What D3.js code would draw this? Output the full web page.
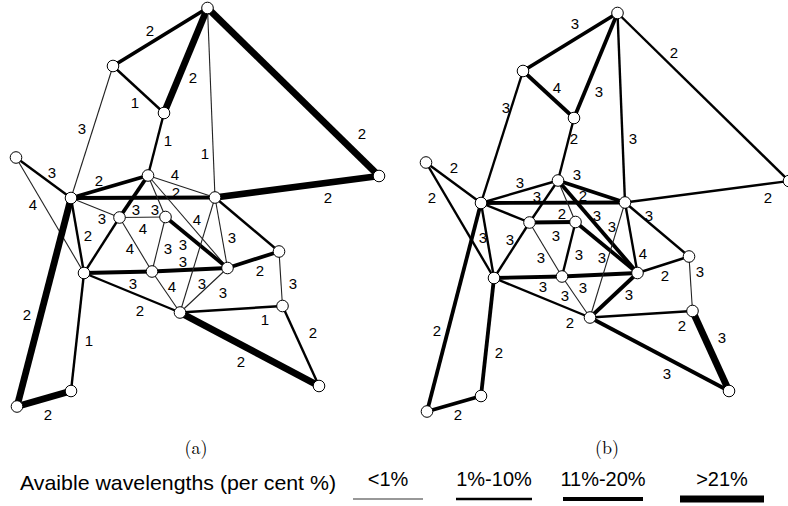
<!DOCTYPE html>
<html>
<head>
<meta charset="utf-8">
<script src="https://cdn.jsdelivr.net/npm/d3@7"></script>
<style>
  html, body { margin: 0; padding: 0; background: #fff; }
  svg { display: block; }
</style>
</head>
<body>
<svg id="chart" width="788" height="506"></svg>
<script>
// ---- network layout (shared by both panels, layout units) ----
const nodeIds = ["T","A","B","R","L","C","D","I","E","F","G","H","J","K","M","N","O","P","Q"];
const nodeX   = [207.5,113,164,379,16,71,148,215,119.5,165.5,84,152,227.5,279,180,282.5,319,71,17];
const nodeY   = [8,66,113,176,157.5,198,175.5,197.5,217.5,217,273,271.5,268,251.5,312.5,306,386,391,406.5];

// ---- links ----
const links = [
  ["T","A"],["T","B"],["T","I"],["T","R"],["A","B"],["A","C"],["B","D"],["L","C"],
  ["L","G"],["C","D"],["C","I"],["C","E"],["C","G"],["C","Q"],["D","E"],["D","F"],
  ["D","I"],["D","J"],["E","F"],["E","G"],["E","H"],["F","H"],["F","J"],["G","H"],
  ["H","J"],["H","M"],["I","M"],["J","M"],["I","J"],["I","K"],["I","R"],["J","K"],
  ["K","N"],["M","N"],["N","O"],["M","O"],["G","M"],["G","P"],["P","Q"]
];

// available-wavelength class per link (0: <1%, 1: 1%-10%, 2: 11%-20%, 3: >21%)
const classA = [2,3,0,3,1,0,1,1,0,2,2,0,1,3,2,0,0,0,0,1,0,0,2,2,2,0,0,0,0,1,3,2,0,1,1,3,1,1,3];
const classB = [2,2,1,1,2,1,1,1,1,1,2,1,1,2,1,0,2,2,2,1,0,1,2,2,2,0,0,2,1,1,1,1,0,1,3,2,1,2,2];

// wavelength count per link, and where its number sits (layout units)
const countA = ["2","2","1","2","1","3","1","3","4","2","2","3","2","2","3","3","4","4","4","","4","3","3","3","3","4","3","3","3","","2","2","3","1","2","2","2","1","2"];
const countPosA = [[150,30],[193,77],[205,153],[362,133],[135,102],[82,128],[168,140],[52,172],[33,204],[99,180],
  [176,192],[102,218],[88,235],[27,314],[136,209],[155,209],[175,174],[197,219],[143,228],null,
  [130,248],[168,248],[183,244],[133,283],[183,261],[172,286],[202,283],[223,292],[232,237],null,
  [328,197],[260,270],[293,283],[265,319],[313,332],[241,361],[140,310],[89,340],[48,414]];

const countB = ["3","3","3","2","4","3","2","2","2","3","2","","3","2","3","2","3","3","3","3","3","3","3","3","3","3","3","3","4","3","2","2","3","2","3","3","2","2","2"];
const countPosB = [[165,18],[189,86],[223,133],[264,47],[147,82],[96,102],[164,133],[44,162],[22,192],[110,177],
  [173,190],null,[73,232],[27,325],[127,191],[152,208],[167,169],[187,210],[146,230],[100,234],
  [131,252],[169,249],[192,252],[133,281],[173,282],[155,290],[202,221],[219,289],[233,248],[239,210],
  [358,192],[255,270],[290,266],[272,320],[312,332],[257,368],[160,317],[89,347],[48,409]];

// legend
const legendTitle = "Avaible wavelengths (per cent %)";
const legendNames = ["<1%","1%-10%","11%-20%",">21%"];
const panelNames  = ["(a)","(b)"];

// ---- drawing ----
const svg = d3.select("#chart");
const widthOf = d3.scaleOrdinal().domain([0,1,2,3]).range([1.1, 2.4, 3.8, 6.8]);

const nodes = nodeIds.map((id, i) => ({ id, x: nodeX[i], y: nodeY[i] }));
const byId = new Map(nodes.map(d => [d.id, d]));

function drawPanel(xRange, yRange, cls, counts, countPos, name) {
  const x = d3.scaleLinear().domain([0, 400]).range(xRange);
  const y = d3.scaleLinear().domain([0, 420]).range(yRange);
  const g = svg.append("g");

  const rows = links.map((l, i) => ({ s: byId.get(l[0]), t: byId.get(l[1]), c: cls[i], n: counts[i], p: countPos[i] }));

  g.selectAll("line.link").data(rows).join("line")
    .attr("class", "link")
    .attr("x1", d => x(d.s.x)).attr("y1", d => y(d.s.y))
    .attr("x2", d => x(d.t.x)).attr("y2", d => y(d.t.y))
    .attr("stroke", d => d.c === 0 ? "#222" : "#000")
    .attr("stroke-width", d => widthOf(d.c));

  g.selectAll("text.count").data(rows.filter(d => d.n && d.p)).join("text")
    .attr("class", "count")
    .attr("x", d => x(d.p[0])).attr("y", d => y(d.p[1]))
    .attr("text-anchor", "middle").attr("dominant-baseline", "central")
    .attr("font-family", "'Liberation Sans', Arial, sans-serif")
    .attr("font-size", 15)
    .text(d => d.n);

  g.selectAll("circle.node").data(nodes).join("circle")
    .attr("class", "node")
    .attr("cx", d => x(d.x)).attr("cy", d => y(d.y))
    .attr("r", 5.8)
    .attr("fill", "#fff").attr("stroke", "#000").attr("stroke-width", 1);

  svg.append("text")
    .attr("x", x(name.cx)).attr("y", name.cy)
    .attr("text-anchor", "middle").attr("dominant-baseline", "central")
    .attr("font-family", "'Latin Modern Roman', 'Liberation Serif', serif")
    .attr("font-size", 18)
    .text(name.text);
}

drawPanel([0, 400], [0, 420], classA, countA, countPosA, { text: panelNames[0], cx: 196, cy: 446 });
drawPanel([410, 810], [5, 425], classB, countB, countPosB, { text: panelNames[1], cx: 197, cy: 446 });

// legend row
const legendItems = legendNames.map((n, i) => ({ n, i }));
const legendX = d3.scaleOrdinal().domain(legendNames).range([388, 494, 603, 722]);
const legendHalf = [35, 38, 40, 42];
const legendFont = "'Liberation Sans', Arial, sans-serif";
svg.append("text")
  .attr("x", 20).attr("y", 482)
  .attr("dominant-baseline", "central")
  .attr("font-family", legendFont).attr("font-size", 21)
  .attr("textLength", 316).attr("lengthAdjust", "spacingAndGlyphs")
  .text(legendTitle);

const lg = svg.append("g").selectAll("g").data(legendItems).join("g");
lg.append("text")
  .attr("x", d => legendX(d.n)).attr("y", 479)
  .attr("text-anchor", "middle").attr("dominant-baseline", "central")
  .attr("font-family", legendFont).attr("font-size", 20)
  .text(d => d.n);
lg.append("line")
  .attr("x1", d => legendX(d.n) - legendHalf[d.i]).attr("x2", d => legendX(d.n) + legendHalf[d.i])
  .attr("y1", 499).attr("y2", 499)
  .attr("stroke", d => d.i === 0 ? "#333" : "#000")
  .attr("stroke-width", d => widthOf(d.i));
</script>
</body>
</html>
